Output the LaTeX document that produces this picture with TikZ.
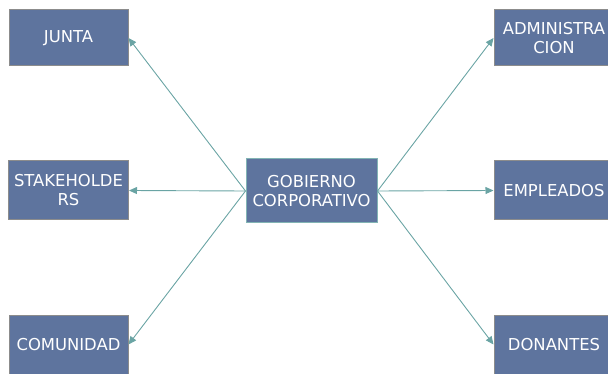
\documentclass[tikz,border=0pt]{standalone}
\usepackage{fontspec}
\setmainfont{DejaVu Sans}
\usetikzlibrary{arrows.meta}
\definecolor{boxfill}{RGB}{94,116,158}
\definecolor{boxline}{RGB}{140,140,140}
\definecolor{arrowc}{RGB}{106,164,164}
\definecolor{centerline}{RGB}{130,180,180}
\begin{document}
\begin{tikzpicture}[x=1pt,y=-1pt,
  box/.style={draw=boxline, line width=1pt, fill=boxfill, text=white, align=center,
    inner sep=0pt, font=\fontsize{16.4}{19}\selectfont},
  conn/.style={draw=arrowc, line width=0.9pt, -{Triangle[length=8pt,width=7pt]}}]
\path[use as bounding box] (0,0) rectangle (608,374);
\clip (0,0) rectangle (608,374);
\node[box, minimum width=119pt, minimum height=56pt] (junta) at (68.5,38) {JUNTA};
\node[box, minimum width=120pt, minimum height=59pt] (stake) at (68.5,190.5) {STAKEHOLDE\\RS};
\node[box, minimum width=119pt, minimum height=59pt] (comu) at (68.5,344.5) {COMUNIDAD};
\node[box, draw=centerline, minimum width=131pt, minimum height=64pt] (gob) at (311.5,191) {GOBIERNO\\CORPORATIVO};
\node[box, minimum width=120pt, minimum height=56pt] (admin) at (554,38) {ADMINISTRA\\CION};
\node[box, minimum width=120pt, minimum height=59pt] (emp) at (554,190.5) {EMPLEADOS};
\node[box, minimum width=120pt, minimum height=59pt] (don) at (554,344.5) {DONANTES};
\draw[conn] (gob.west) -- (junta.east);
\draw[conn] (gob.west) -- (stake.east);
\draw[conn] (gob.west) -- (comu.east);
\draw[conn] (gob.east) -- (admin.west);
\draw[conn] (gob.east) -- (emp.west);
\draw[conn] (gob.east) -- (don.west);
\end{tikzpicture}
\end{document}
